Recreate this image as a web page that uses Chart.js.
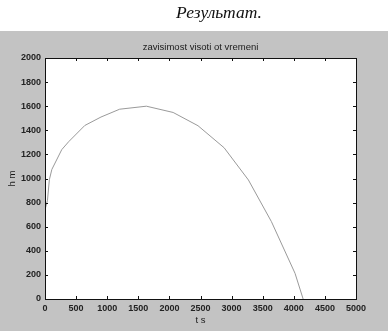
<!DOCTYPE html>
<html>
<head>
<meta charset="utf-8">
<script src="https://cdn.jsdelivr.net/npm/chart.js@4"></script>
<style>
  html, body { margin: 0; padding: 0; background: #fff; }
  #wrap { position: relative; width: 388px; height: 331px; }
  #heading {
    position: absolute; left: 0; width: 388px; top: 0; text-align: center;
    font: italic 17.5px "Liberation Serif", "DejaVu Serif", serif; color: #111;
    padding-left: 50px; box-sizing: border-box; line-height: 24px;
  }
</style>
</head>
<body>
<div id="wrap">
  <canvas id="trajectory" width="388" height="331"></canvas>
  <div id="heading">Результат.</div>
</div>
<script>
// time (s) and height (m)
const tValues = [0, 40, 70, 110, 270, 380, 640, 900, 1200, 1630, 2060, 2460, 2880, 3270, 3640, 4020, 4150];
const hValues = [740, 820, 990, 1075, 1240, 1305, 1440, 1510, 1575, 1600, 1548, 1438, 1255, 988, 642, 213, 0];
const xTicks = [0, 500, 1000, 1500, 2000, 2500, 3000, 3500, 4000, 4500, 5000];
const yTicks = [0, 200, 400, 600, 800, 1000, 1200, 1400, 1600, 1800, 2000];

const points = tValues.map((t, i) => ({ x: t, y: hValues[i] }));
const labelFont = { family: '"Liberation Sans", Arial, sans-serif', size: 9, weight: 'bold' };

// grey figure, box, inward ticks and labels like a matlab figure
const figureStyle = {
  id: 'figureStyle',
  beforeDraw(chart) {
    const ctx = chart.ctx;
    const a = chart.chartArea;
    ctx.save();
    ctx.fillStyle = '#fff';
    ctx.fillRect(0, 0, chart.width, chart.height);
    ctx.fillStyle = '#c3c3c3';
    ctx.fillRect(0, 31, chart.width, chart.height - 31);
    ctx.fillStyle = '#fff';
    ctx.fillRect(a.left, a.top, a.right - a.left, a.bottom - a.top);
    ctx.restore();
  },
  afterDraw(chart) {
    const ctx = chart.ctx;
    const a = chart.chartArea;
    const xs = chart.scales.x, ys = chart.scales.y;
    ctx.save();
    ctx.strokeStyle = '#111';
    ctx.lineWidth = 1;
    ctx.strokeRect(a.left + 0.5, a.top + 0.5, a.right - a.left, a.bottom - a.top);
    ctx.beginPath();
    xTicks.forEach(v => {
      const px = Math.round(xs.getPixelForValue(v)) + 0.5;
      ctx.moveTo(px, a.bottom); ctx.lineTo(px, a.bottom - 3);
      ctx.moveTo(px, a.top); ctx.lineTo(px, a.top + 3);
    });
    yTicks.forEach(v => {
      const py = Math.round(ys.getPixelForValue(v)) + 0.5;
      ctx.moveTo(a.left, py); ctx.lineTo(a.left + 3, py);
      ctx.moveTo(a.right, py); ctx.lineTo(a.right - 3, py);
    });
    ctx.stroke();

    ctx.fillStyle = '#1a1a1a';
    ctx.font = '9.5px "Liberation Sans", Arial, sans-serif';
    ctx.textAlign = 'center';
    ctx.textBaseline = 'middle';
    ctx.fillText('zavisimost visoti ot vremeni', (a.left + a.right) / 2, 47);
    ctx.fillText('t s', (a.left + a.right) / 2, 320);
    ctx.translate(12, (a.top + a.bottom) / 2);
    ctx.rotate(-Math.PI / 2);
    ctx.fillText('h m', 0, 0);
    ctx.restore();
  }
};

new Chart(document.getElementById('trajectory'), {
  type: 'scatter',
  data: {
    datasets: [{
      data: points,
      showLine: true,
      borderColor: '#9a9a9a',
      borderWidth: 1,
      pointRadius: 0,
      tension: 0
    }]
  },
  options: {
    responsive: false,
    animation: false,
    layout: { padding: { left: 0, right: 32, top: 58, bottom: 0 } },
    plugins: { legend: { display: false }, tooltip: { enabled: false } },
    scales: {
      x: {
        type: 'linear', min: 0, max: 5000,
        afterBuildTicks: s => { s.ticks = xTicks.map(v => ({ value: v })); },
        afterFit: s => { s.height = 32; },
        grid: { display: false, drawTicks: false },
        border: { display: false },
        ticks: {
          color: '#222', padding: 4, maxRotation: 0, autoSkip: false,
          font: labelFont, callback: v => String(v)
        }
      },
      y: {
        type: 'linear', min: 0, max: 2000,
        afterBuildTicks: s => { s.ticks = yTicks.map(v => ({ value: v })); },
        afterFit: s => { s.width = 45; },
        grid: { display: false, drawTicks: false },
        border: { display: false },
        ticks: {
          color: '#222', padding: 4, autoSkip: false,
          font: labelFont, callback: v => String(v)
        }
      }
    }
  },
  plugins: [figureStyle]
});
</script>
</body>
</html>
